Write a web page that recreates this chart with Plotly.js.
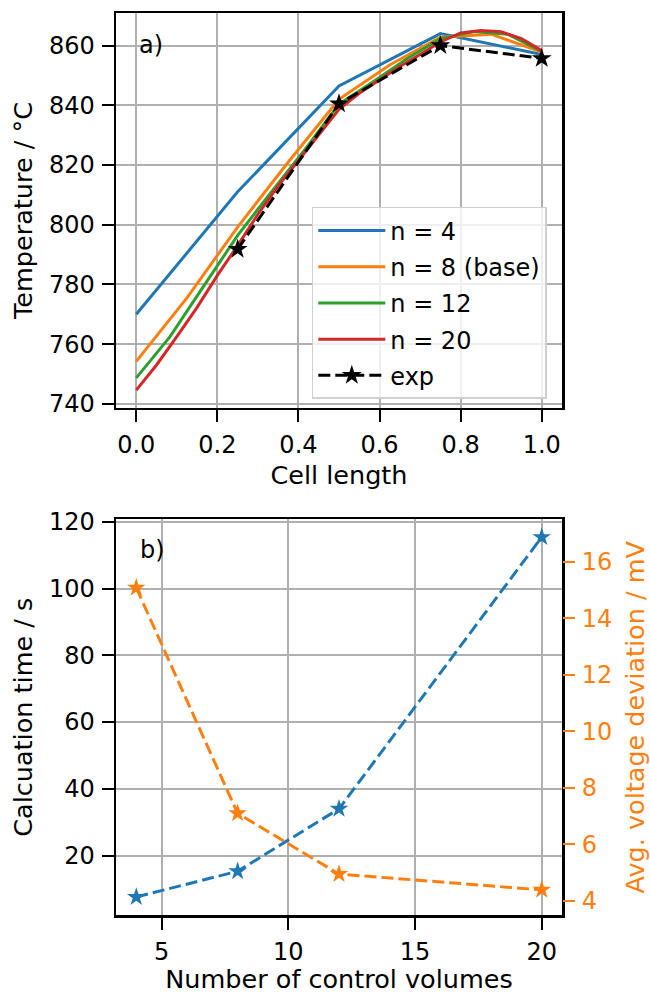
<!DOCTYPE html>
<html>
<head>
<meta charset="utf-8">
<script src="https://cdn.plot.ly/plotly-3.0.1.min.js"></script>
<style>html,body{margin:0;padding:0;background:#fff;}#chart{width:650px;height:994px;}</style>
</head>
<body>
<div id="chart"></div>
<script>
// ---- Panel a) data ----
const x4 = [0, 0.25, 0.5, 0.75, 1.0];
const T4 = [770, 811, 846.5, 864, 857];

const x8 = [0, 0.125, 0.25, 0.375, 0.5, 0.625, 0.75, 0.875, 1.0];
const T8 = [754.2, 775.5, 799.2, 821, 842, 853.5, 862.8, 863.8, 857.8];

const x12 = [0, 1/12, 2/12, 3/12, 4/12, 5/12, 6/12, 7/12, 8/12, 9/12, 10/12, 11/12, 1.0];
const T12 = [748.7, 762.5, 779.5, 796.4, 811, 825.3, 840.4, 847.8, 855.5, 862.3, 864.7, 863.8, 858];

const x20 = [0, 0.05, 0.1, 0.15, 0.2, 0.25, 0.3, 0.35, 0.4, 0.45, 0.5, 0.55, 0.6, 0.65, 0.7, 0.75, 0.8, 0.85, 0.9, 0.95, 1.0];
const T20 = [744.6, 753, 762.5, 772.3, 783, 793, 803.5, 813, 821.5, 830, 838.6, 844, 848.4, 853, 857, 861.2, 864.2, 865, 864.6, 862.3, 858.3];

const xExp = [0.25, 0.5, 0.75, 1.0];
const TExp = [791.8, 840.5, 860, 855.7];

const seriesNamesA = ['n = 4', 'n = 8 (base)', 'n = 12', 'n = 20', 'exp'];

// ---- Panel b) data ----
const nCV = [4, 8, 12, 20];
const calcTime = [7.6, 15.3, 34, 115.4];
const voltDev = [15.08, 7.09, 4.94, 4.38];

// ---- styling ----
const FONT = 'DejaVu Sans, sans-serif';
const TICK = 24, TITLE = 25.5, LEG = 24;
const C = {blue: '#1f77b4', orange: '#ff7f0e', green: '#2ca02c', red: '#d62728'};
const DASH = '12px,5px';

const traces = [
  {x: x4, y: T4, name: seriesNamesA[0], mode: 'lines', line: {color: C.blue, width: 3}, xaxis: 'x', yaxis: 'y', legendgroup: 'g1'},
  {x: x8, y: T8, name: seriesNamesA[1], mode: 'lines', line: {color: C.orange, width: 3}, xaxis: 'x', yaxis: 'y', legendgroup: 'g2'},
  {x: x12, y: T12, name: seriesNamesA[2], mode: 'lines', line: {color: C.green, width: 3}, xaxis: 'x', yaxis: 'y', legendgroup: 'g3'},
  {x: x20, y: T20, name: seriesNamesA[3], mode: 'lines', line: {color: C.red, width: 3}, xaxis: 'x', yaxis: 'y', legendgroup: 'g4'},
  {x: xExp, y: TExp, name: seriesNamesA[4], mode: 'lines+markers', line: {color: '#000', width: 3, dash: DASH},
   marker: {symbol: 'star', size: 15, color: '#000'}, xaxis: 'x', yaxis: 'y', legendgroup: 'g5'},
  {x: nCV, y: calcTime, name: 'Calculation time', mode: 'lines+markers', line: {color: C.blue, width: 3, dash: DASH},
   marker: {symbol: 'star', size: 14, color: C.blue}, xaxis: 'x2', yaxis: 'y2', showlegend: false},
  {x: nCV, y: voltDev, name: 'Avg. voltage deviation', mode: 'lines+markers', line: {color: C.orange, width: 3, dash: DASH},
   marker: {symbol: 'star', size: 14, color: C.orange}, xaxis: 'x2', yaxis: 'y3', showlegend: false}
];

const axBase = {
  showline: true, linecolor: '#000', linewidth: 2.5, mirror: true,
  ticks: 'outside', ticklen: 12, tickwidth: 2, tickcolor: '#000',
  showgrid: true, gridcolor: '#b0b0b0', gridwidth: 2,
  zeroline: false, tickfont: {family: FONT, size: TICK, color: '#000'},
  ticklabelstandoff: 2
};

const layout = {
  width: 650, height: 994,
  margin: {l: 116, r: 88, t: 13, b: 79, pad: 0},
  paper_bgcolor: '#fff', plot_bgcolor: '#fff',
  font: {family: FONT, color: '#000', size: TICK},
  showlegend: true,
  legend: {
    x: 0.439, y: 0.785, xanchor: 'left', yanchor: 'top',
    bgcolor: 'rgba(255,255,255,0.8)', bordercolor: '#d0d0d0', borderwidth: 1.5,
    font: {family: FONT, size: LEG, color: '#000'},
    tracegroupgap: 2, itemwidth: 67
  },
  xaxis: Object.assign({}, axBase, {
    domain: [0, 1], anchor: 'y', range: [-0.05, 1.05], dtick: 0.2, tick0: 0, tickformat: '.1f',
    title: {text: 'Cell length', font: {family: FONT, size: TITLE, color: '#000'}, standoff: 8}
  }),
  yaxis: Object.assign({}, axBase, {
    domain: [0.5621, 1], anchor: 'x', range: [738.6, 870.9], dtick: 20, tick0: 740,
    title: {text: 'Temperature / °C', font: {family: FONT, size: TITLE, color: '#000'}, standoff: 9}
  }),
  xaxis2: Object.assign({}, axBase, {
    domain: [0, 1], anchor: 'y2', range: [3.2, 20.8], dtick: 5, tick0: 0,
    title: {text: 'Number of control volumes', font: {family: FONT, size: TITLE, color: '#000'}, standoff: 8}
  }),
  yaxis2: Object.assign({}, axBase, {
    domain: [0, 0.4385], anchor: 'x2', range: [2.2, 120.7], dtick: 20, tick0: 0,
    title: {text: 'Calcuation time / s', font: {family: FONT, size: TITLE, color: '#000'}, standoff: 9}
  }),
  yaxis3: {
    overlaying: 'y2', side: 'right', anchor: 'x2', range: [3.49, 17.5], dtick: 2, tick0: 0,
    showline: false, showgrid: false, zeroline: false,
    ticks: 'outside', ticklen: 12, tickwidth: 2, tickcolor: C.orange,
    tickfont: {family: FONT, size: TICK, color: C.orange}, ticklabelstandoff: 2,
    title: {text: 'Avg. voltage deviation / mV', font: {family: FONT, size: TITLE, color: C.orange}, standoff: 14}
  },
  annotations: [
    {text: 'a)', xref: 'x domain', yref: 'y domain', x: 0.078, y: 0.919, xanchor: 'center', yanchor: 'middle',
     showarrow: false, font: {family: FONT, size: TICK, color: '#000'}},
    {text: 'b)', xref: 'x2 domain', yref: 'y2 domain', x: 0.081, y: 0.924, xanchor: 'center', yanchor: 'middle',
     showarrow: false, font: {family: FONT, size: TICK, color: '#000'}}
  ]
};

Plotly.newPlot('chart', traces, layout, {staticPlot: true, displayModeBar: false});
</script>
</body>
</html>
